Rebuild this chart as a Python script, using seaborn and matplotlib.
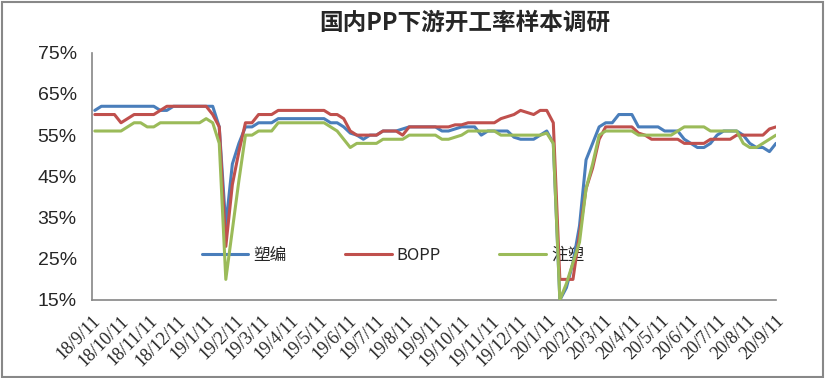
import pandas as pd
import matplotlib
matplotlib.use("Agg")
import matplotlib.pyplot as plt
import seaborn as sns
from matplotlib.patches import Rectangle

# weekly sample dates
dates = pd.date_range("2018-09-14", "2020-09-11", freq="7D")

# operating rates (%)
suobian = [61, 62, 62, 62, 62, 62, 62, 62, 62, 62, 61, 61, 62, 62, 62, 62, 62, 62, 62,
           57, 33, 48, 53, 57, 57, 58, 58, 58, 59, 59, 59, 59, 59, 59, 59, 59,
           58, 58, 57, 55.5, 55, 54, 55, 55, 56, 56, 56,
           56.5, 57, 57, 57, 57, 57, 56, 56, 56.5, 57, 57, 57, 55, 56, 56, 56, 56,
           54.5, 54, 54, 54, 55, 56, 53,
           15, 18, 24, 33, 49, 53, 57,
           58, 58, 60, 60, 60, 57, 57, 57, 57, 56, 56, 56, 54, 53, 52, 52, 53,
           55, 56, 56, 56, 55, 53, 52, 52, 51, 53]
bopp = [60, 60, 60, 60, 58, 59, 60, 60, 60, 60, 61, 62, 62, 62, 62, 62, 62, 62, 60,
        57, 28, 43, 51, 58, 58, 60, 60, 60, 61, 61, 61, 61, 61, 61, 61, 61,
        60, 60, 59, 56, 55, 55, 55, 55, 56, 56, 56,
        55, 57, 57, 57, 57, 57, 57, 57, 57.5, 57.5, 58, 58, 58, 58, 58,
        59, 59.5, 60, 61, 60.5, 60, 61, 61, 58,
        20, 20, 20, 31, 42, 47, 54,
        57, 57, 57, 57, 57, 55.5, 55, 54, 54, 54, 54, 54, 53, 53, 53, 53,
        54, 54, 54, 54, 55, 55, 55, 55, 55, 56.5, 57]
zhusu = [56, 56, 56, 56, 56, 57, 58, 58, 57, 57, 58, 58, 58, 58, 58, 58, 58, 59, 58,
         53, 20, 32, 44, 55, 55, 56, 56, 56, 58, 58, 58, 58, 58, 58, 58, 58,
         57, 56, 54, 52, 53, 53, 53, 53, 54, 54, 54,
         54, 55, 55, 55, 55, 55, 54, 54, 54.5, 55, 56, 56, 56, 56, 56,
         55, 55, 55, 55, 55, 55, 55, 55.5, 53,
         15, 19, 24, 29, 42, 48, 55,
         56, 56, 56, 56, 56, 55, 55, 55, 55, 55, 55, 56, 57, 57, 57, 57,
         56, 56, 56, 56, 56, 53, 52, 52, 53, 54, 55]

series_names = ["塑编", "BOPP", "注塑"]
series_colors = ["#4A7EBB", "#C0504D", "#9BBB59"]
y_ticks = [15, 25, 35, 45, 55, 65, 75]
month_ticks = pd.date_range("2018-09-11", "2020-09-11", freq=pd.DateOffset(months=1))
month_labels = [f"{d.year % 100}/{d.month}/{d.day}" for d in month_ticks]

sns.set_style("white")
plt.rcParams["font.family"] = ["Noto Sans CJK SC", "DejaVu Sans"]

fig = plt.figure(figsize=(8.25, 3.78), dpi=100)
ax = fig.add_axes([92 / 825, 1 - 300 / 378, (776 - 92) / 825, (300 - 52.7) / 378])

for name, vals, color in zip(series_names, [suobian, bopp, zhusu], series_colors):
    sns.lineplot(x=dates, y=vals, ax=ax, color=color, linewidth=2.2, label=name,
                 solid_joinstyle="round", zorder=3)

ax.set_xlim(month_ticks[0], month_ticks[-1])
ax.set_ylim(15, 75)
ax.set_yticks(y_ticks)
ax.set_yticklabels([f"{v}%" for v in y_ticks], fontfamily="Liberation Sans", fontsize=14)
ax.set_xticks(month_ticks)
ax.set_xticklabels(month_labels, rotation=45, ha="right", va="top", rotation_mode="anchor",
                   fontfamily="Liberation Serif", fontsize=13)
ax.set_xlabel("")
ax.set_ylabel("")

for side in ["top", "right"]:
    ax.spines[side].set_visible(False)
for side in ["left", "bottom"]:
    ax.spines[side].set_color("#868686")
    ax.spines[side].set_linewidth(1.2)
ax.tick_params(axis="both", direction="in", length=4, color="#868686", width=1)
ax.tick_params(axis="x", pad=9)
ax.tick_params(axis="y", pad=11)

leg = ax.legend(loc="center", bbox_to_anchor=(0.44, 0.18), ncol=3, frameon=False,
                handlelength=2.8, columnspacing=3.5, handletextpad=0.3,
                prop={"family": ["Noto Sans CJK SC", "DejaVu Sans"], "size": 12})
leg.set_zorder(2)

fig.text(0.564, 0.94, "国内PP下游开工率样本调研", ha="center", va="center",
         fontsize=17, fontweight="bold")

fig.add_artist(Rectangle((0.002, 0.003), 0.995, 0.993, transform=fig.transFigure,
                         fill=False, edgecolor="#888888", linewidth=1.5))

fig.savefig("out.png", dpi=100)
